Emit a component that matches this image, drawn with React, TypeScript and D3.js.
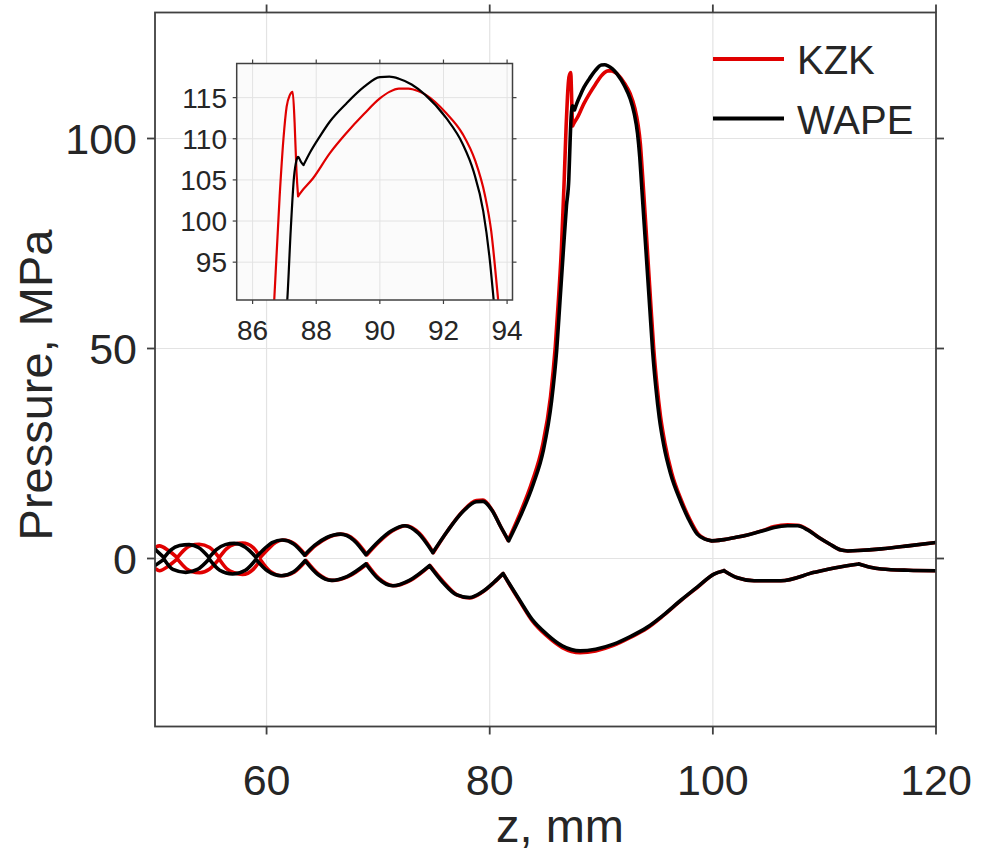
import React from "react";
import * as d3 from "d3";

const W = 983;
const H = 859;

const seriesNames = ["KZK", "WAPE"];
const seriesColors = ["#e00000", "#000000"];
const xTicks = [60, 80, 100, 120];
const yTicks = [0, 50, 100];
const insetXTicks = [86, 88, 90, 92, 94];
const insetYTicks = [95, 100, 105, 110, 115];

// WAPE, positive peak pressure (z in mm, p in MPa)
const zWapePos = [50.0, 50.81, 51.4, 52.2, 53.06, 53.9, 54.85, 55.5, 56.3, 57.1, 58.1, 59.05, 59.8, 60.5, 61.4, 62.4, 63.4, 64.3, 65.4, 66.6, 67.8, 68.9, 70.0, 71.2, 72.4, 73.6, 74.9, 76.2, 77.6, 78.8, 79.4, 80.2, 81.0, 81.7, 82.7, 83.9, 84.8, 85.55, 86.0, 86.3, 86.6, 86.88, 87.09, 87.2, 87.3, 87.38, 87.43, 87.52, 87.6, 87.8, 88.1, 88.43, 88.95, 89.5, 90.0, 90.3, 90.6, 91.0, 91.41, 92.09, 92.6, 92.95, 93.25, 93.45, 93.6, 93.85, 94.1, 94.35, 94.6, 94.9, 95.2, 95.6, 96.2, 97.1, 97.8, 98.6, 99.3, 99.9, 101.0, 102.0, 103.1, 104.5, 105.5, 106.7, 107.6, 108.5, 109.5, 110.5, 111.5, 112.1, 113.0, 115.1, 117.5, 120.0];
const pWapePos = [2.2, 0.2, 2.0, 3.1, 3.3, 2.6, 0.2, 2.1, 3.3, 3.6, 2.7, 0.3, 2.3, 3.8, 4.4, 3.5, 0.8, 3.1, 5.0, 5.8, 4.4, 0.9, 4.0, 6.6, 7.8, 6.0, 1.4, 6.5, 11.2, 13.5, 13.6, 11.5, 7.5, 4.2, 9.8, 17.7, 25.7, 37.6, 49.5, 61.4, 73.3, 84, 90.4, 99, 105.3, 107.4, 107.8, 107.2, 106.8, 108.3, 110.2, 112.1, 114.3, 116.3, 117.5, 117.55, 117.3, 116.6, 115.4, 112.5, 109.4, 106.0, 101.2, 95.5, 89.5, 79.5, 69.5, 59.5, 49.5, 40.5, 33.5, 27.0, 20.3, 13.7, 9.5, 5.8, 4.6, 4.2, 4.5, 5.0, 5.6, 6.6, 7.4, 7.8, 7.8, 6.8, 5.0, 3.4, 2.0, 1.8, 1.9, 2.3, 3.0, 3.8];

// KZK, positive peak pressure
const zKzkPos = [50.0, 50.4, 51.2, 52.0, 52.6, 53.2, 53.96, 54.9, 55.75, 56.4, 57.1, 57.85, 58.8, 59.45, 60.2, 60.8, 61.5, 62.5, 63.5, 64.4, 65.5, 66.7, 67.9, 69.0, 70.1, 71.3, 72.5, 73.7, 74.95, 76.2, 77.6, 78.8, 79.4, 80.2, 81.0, 81.65, 82.6, 83.8, 84.7, 85.45, 85.88, 86.17, 86.43, 86.6, 86.68, 86.85, 86.97, 87.07, 87.17, 87.26, 87.32, 87.38, 87.43, 87.5, 87.9, 88.43, 88.95, 89.5, 90.0, 90.3, 90.6, 90.9, 91.2, 91.46, 92.09, 92.6, 93.0, 93.3, 93.5, 93.7, 93.95, 94.2, 94.45, 94.7, 95.0, 95.3, 95.7, 96.3, 97.2, 97.9, 98.7, 99.35, 99.9, 101.0, 102.0, 103.1, 104.5, 105.5, 106.7, 107.6, 108.5, 109.5, 110.5, 111.5, 112.1, 113.0, 115.1, 117.5, 120.0];
const pKzkPos = [2.6, 3.0, 1.9, 0.2, 2.0, 3.1, 3.4, 2.6, 0.2, 2.3, 3.4, 3.7, 2.6, 0.3, 2.4, 3.8, 4.4, 3.5, 0.8, 3.1, 5.0, 5.8, 4.4, 0.9, 4.0, 6.6, 7.8, 6.0, 1.4, 6.5, 11.3, 13.8, 13.9, 11.6, 7.5, 4.3, 10.0, 18.3, 26.5, 38.5, 50.5, 62, 74, 85, 90.4, 103, 110, 113.9, 115.3, 115.7, 112, 106, 103, 103.4, 105.2, 108.25, 110.7, 113.0, 114.9, 115.7, 116.1, 116.1, 115.8, 115.3, 113.1, 110.6, 107.3, 103.2, 98.8, 91.2, 81, 70.5, 60, 50, 41, 34, 27.5, 20.5, 13.7, 9.5, 5.8, 4.6, 4.2, 4.5, 5.0, 5.6, 6.7, 7.6, 8.0, 7.9, 6.9, 5.0, 3.4, 2.0, 1.8, 1.9, 2.3, 3.0, 3.8];

// WAPE, negative peak pressure
const zWapeNeg = [50.0, 50.81, 51.6, 52.76, 53.8, 54.85, 55.8, 56.95, 58.1, 59.05, 60.1, 61.3, 62.4, 63.45, 64.6, 65.8, 67.2, 68.9, 70.0, 71.3, 72.8, 74.6, 75.8, 77.0, 78.2, 79.3, 80.4, 81.2, 81.8, 82.7, 83.8, 85.1, 86.5, 88.1, 89.5, 91.1, 92.6, 94.1, 95.6, 97.1, 98.6, 100.1, 101.0, 102.2, 103.7, 106.1, 109.1, 111.0, 113.1, 114.0, 115.1, 117.5, 120.0];
const pWapeNeg = [-1.7, -0.2, -2.6, -3.3, -2.6, -0.1, -2.8, -3.7, -2.8, -0.2, -3.0, -4.1, -3.2, -0.5, -3.8, -5.2, -4.3, -1.3, -4.8, -6.5, -5.2, -1.7, -5.7, -8.6, -9.3, -8.0, -5.6, -3.6, -6.2, -10.0, -14.5, -18.0, -20.8, -22.0, -21.6, -20.4, -18.6, -16.4, -13.4, -10.0, -6.8, -3.7, -2.9, -4.6, -5.3, -5.3, -3.3, -2.2, -1.3, -2.0, -2.5, -2.8, -2.9];

// KZK, negative peak pressure
const zKzkNeg = [50.0, 50.4, 51.2, 52.0, 52.8, 53.3, 54.0, 54.9, 55.75, 56.5, 57.1, 57.85, 58.8, 59.45, 60.3, 61.4, 62.5, 63.55, 64.7, 65.9, 67.3, 69.0, 70.1, 71.4, 72.9, 74.65, 75.9, 77.1, 78.2, 79.3, 80.4, 81.2, 81.8, 82.7, 83.8, 85.1, 86.5, 88.1, 89.5, 91.1, 92.6, 94.1, 95.6, 97.1, 98.6, 100.1, 101.0, 102.2, 103.7, 106.1, 109.1, 111.0, 113.1, 114.0, 115.1, 117.5, 120.0];
const pKzkNeg = [-2.4, -2.9, -1.8, -0.1, -2.4, -3.1, -3.4, -2.5, -0.1, -2.6, -3.4, -3.8, -2.6, -0.3, -3.0, -4.1, -3.2, -0.5, -3.8, -5.2, -4.3, -1.3, -4.8, -6.5, -5.2, -1.7, -5.7, -8.7, -9.4, -8.1, -5.7, -3.6, -6.3, -10.2, -14.8, -18.4, -21.2, -22.4, -22.0, -20.7, -18.8, -16.6, -13.5, -10.1, -6.9, -3.7, -2.9, -4.6, -5.3, -5.3, -3.3, -2.2, -1.3, -2.0, -2.5, -2.8, -2.9];

type Pt = [number, number];
const zip = (z: number[], p: number[]): Pt[] => z.map((v, i) => [v, p[i]] as Pt);

const curves = [
  { name: "KZK", color: seriesColors[0], pos: true, pts: zip(zKzkPos, pKzkPos) },
  { name: "KZK", color: seriesColors[0], pos: false, pts: zip(zKzkNeg, pKzkNeg) },
  { name: "WAPE", color: seriesColors[1], pos: true, pts: zip(zWapePos, pWapePos) },
  { name: "WAPE", color: seriesColors[1], pos: false, pts: zip(zWapeNeg, pWapeNeg) },
];

// split a curve at its cusps (local minima of p+ / local maxima of p-)
function splitAtCusps(pts: Pt[], pos: boolean): Pt[][] {
  const cuts = [0];
  for (let i = 1; i < pts.length - 1; i++) {
    const a = pts[i - 1][1], b = pts[i][1], c = pts[i + 1][1];
    if (pos ? b < a && b < c : b > a && b > c) cuts.push(i);
  }
  cuts.push(pts.length - 1);
  const segs: Pt[][] = [];
  for (let k = 0; k < cuts.length - 1; k++) segs.push(pts.slice(cuts[k], cuts[k + 1] + 1));
  return segs;
}

const FONT = "'Liberation Sans', Arial, Helvetica, sans-serif";
const TXT = "#262626";
const AX = "#404040";
const GRID = "#e3e3e3";

export default function App() {
  const L = 155, R = 936, T = 12.5, B = 726.5;
  const x = d3.scaleLinear().domain([50, 120]).range([L, R]);
  const y = d3.scaleLinear().domain([-40, 130]).range([B, T]);

  const iL = 236.7, iR = 512.5, iT = 63.5, iB = 300;
  const ix = d3.scaleLinear().domain([85.5, 94.17]).range([iL, iR]);
  const iy = d3.scaleLinear().domain([90.4, 119.15]).range([iB, iT]);

  const line = d3.line<Pt>().x((d) => x(d[0])).y((d) => y(d[1])).curve(d3.curveMonotoneX);
  const iline = d3.line<Pt>().x((d) => ix(d[0])).y((d) => iy(d[1])).curve(d3.curveMonotoneX);
  const pathOf = (gen: d3.Line<Pt>, pts: Pt[], pos: boolean) =>
    splitAtCusps(pts, pos).map((s) => gen(s) || "").join("");

  const legendY = [59, 118.5];

  return (
    <svg width={W} height={H} style={{ display: "block", position: "absolute", left: 0, top: 0, background: "#fff" }} fontFamily={FONT}>
      <defs>
        <clipPath id="mainClip">
          <rect x={L} y={T} width={R - L} height={B - T} />
        </clipPath>
        <clipPath id="insetClip">
          <rect x={iL} y={iT} width={iR - iL} height={iB - iT} />
        </clipPath>
      </defs>
      <rect x={0} y={0} width={W} height={H} fill="#fff" />
      {xTicks.filter((t) => t < 120).map((t) => (
        <line key={"gx" + t} x1={x(t)} x2={x(t)} y1={T} y2={B} stroke={GRID} strokeWidth={1.2} />
      ))}
      {yTicks.map((t) => (
        <line key={"gy" + t} x1={L} x2={R} y1={y(t)} y2={y(t)} stroke={GRID} strokeWidth={1.2} />
      ))}
      <g clipPath="url(#mainClip)">
        {curves.map((c, i) => (
          <path key={"c" + i} d={pathOf(line, c.pts, c.pos)} fill="none" stroke={c.color} strokeWidth={3.6} strokeLinejoin="round" strokeLinecap="round" />
        ))}
      </g>
      <rect x={L} y={T} width={R - L} height={B - T} fill="none" stroke={AX} strokeWidth={1.8} />
      {xTicks.map((t) => (
        <g key={"tx" + t}>
          <line x1={x(t)} x2={x(t)} y1={B} y2={B + 8} stroke={AX} strokeWidth={1.8} />
          <line x1={x(t)} x2={x(t)} y1={T} y2={T - 8} stroke={AX} strokeWidth={1.8} />
          <text x={x(t)} y={795} textAnchor="middle" fontSize={43} fill={TXT}>{t}</text>
        </g>
      ))}
      {yTicks.map((t) => (
        <g key={"ty" + t}>
          <line x1={L} x2={L - 8} y1={y(t)} y2={y(t)} stroke={AX} strokeWidth={1.8} />
          <line x1={R} x2={R + 8} y1={y(t)} y2={y(t)} stroke={AX} strokeWidth={1.8} />
          <text x={137} y={y(t) + 15.5} textAnchor="end" fontSize={43} fill={TXT}>{t}</text>
        </g>
      ))}
      <text x={560} y={842} textAnchor="middle" fontSize={47} fill={TXT}>z, mm</text>
      <text transform="translate(52,385) rotate(-90)" textAnchor="middle" fontSize={47} fill={TXT}>Pressure, MPa</text>

      {seriesNames.map((n, i) => (
        <g key={"lg" + n}>
          <line x1={713} x2={784} y1={legendY[i]} y2={legendY[i]} stroke={seriesColors[i]} strokeWidth={4} />
          <text x={797} y={legendY[i] + 15} fontSize={40} fill={TXT}>{n}</text>
        </g>
      ))}

      <rect x={iL} y={iT} width={iR - iL} height={iB - iT} fill="#fbfbfb" />
      {insetXTicks.map((t) => (
        <line key={"igx" + t} x1={ix(t)} x2={ix(t)} y1={iT} y2={iB} stroke={GRID} strokeWidth={1} />
      ))}
      {insetYTicks.map((t) => (
        <line key={"igy" + t} x1={iL} x2={iR} y1={iy(t)} y2={iy(t)} stroke={GRID} strokeWidth={1} />
      ))}
      <g clipPath="url(#insetClip)">
        {curves.map((c, i) => (
          <path key={"ic" + i} d={pathOf(iline, c.pts, c.pos)} fill="none" stroke={c.color} strokeWidth={2.2} strokeLinejoin="round" strokeLinecap="round" />
        ))}
      </g>
      <rect x={iL} y={iT} width={iR - iL} height={iB - iT} fill="none" stroke={AX} strokeWidth={1.5} />
      {insetXTicks.map((t) => (
        <g key={"itx" + t}>
          <line x1={ix(t)} x2={ix(t)} y1={iB} y2={iB + 4} stroke={AX} strokeWidth={1.2} />
          <line x1={ix(t)} x2={ix(t)} y1={iT} y2={iT - 4} stroke={AX} strokeWidth={1.2} />
          <text x={ix(t)} y={340} textAnchor="middle" fontSize={28} fill={TXT}>{t}</text>
        </g>
      ))}
      {insetYTicks.map((t) => (
        <g key={"ity" + t}>
          <line x1={iL} x2={iL - 4} y1={iy(t)} y2={iy(t)} stroke={AX} strokeWidth={1.2} />
          <line x1={iR} x2={iR + 4} y1={iy(t)} y2={iy(t)} stroke={AX} strokeWidth={1.2} />
          <text x={227} y={iy(t) + 10} textAnchor="end" fontSize={28} fill={TXT}>{t}</text>
        </g>
      ))}
    </svg>
  );
}
